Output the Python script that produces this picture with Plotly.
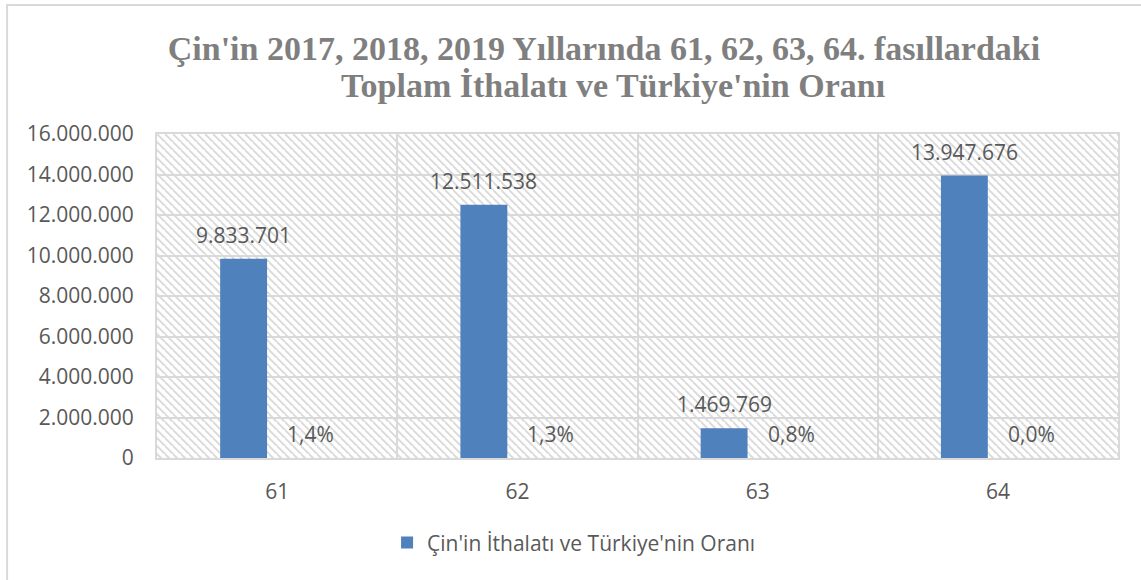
import base64
import plotly.graph_objects as go

# ---- data ----
categories = ["61", "62", "63", "64"]
imports = [9833701, 12511538, 1469769, 13947676]
turkey_share = [0.014, 0.013, 0.008, 0.000]
series_name = "Çin'in İthalatı ve Türkiye'nin Oranı"
y_ticks = [0, 2000000, 4000000, 6000000, 8000000, 10000000, 12000000, 14000000, 16000000]
title_lines = ["Çin'in 2017, 2018, 2019 Yıllarında 61, 62, 63, 64. fasıllardaki",
               "Toplam İthalatı ve Türkiye'nin Oranı"]

BLUE = "#4F81BD"
GRID = "#d9d9d9"
TEXT = "#595959"
FONT = "Open Sans"
FS = 21

W, H = 1141, 580
ML, MR, MT, MB = 157, 23, 134, 122
PW, PH = W - ML - MR, H - MT - MB


def fmt_int(v):
    return f"{v:,}".replace(",", ".")


def fmt_pct(p):
    return f"{p * 100:.1f}%".replace(".", ",")


# diagonal hatch for the plot-area background
svg = (f'<svg xmlns="http://www.w3.org/2000/svg" width="{PW}" height="{PH}">'
       '<defs><pattern id="h" width="8" height="8" patternUnits="userSpaceOnUse">'
       '<path d="M-2,-2 L10,10 M-6,2 L2,10 M6,-6 L14,2" stroke="#dcdcdc" stroke-width="2"/>'
       '</pattern></defs><rect width="100%" height="100%" fill="url(#h)"/></svg>')
hatch_src = "data:image/svg+xml;base64," + base64.b64encode(svg.encode()).decode()

fig = go.Figure()
fig.add_trace(go.Bar(
    x=categories, y=imports, name=series_name,
    marker=dict(color=BLUE, line_width=0)))
fig.add_trace(go.Bar(
    x=categories, y=turkey_share, name="Türkiye'nin Oranı",
    marker=dict(color="#C0504D", line_width=0), showlegend=False))

annotations = []
# category index positions (numeric-looking category names would be read as indices)
for i, v in enumerate(imports):
    annotations.append(dict(x=i, y=v, xref="x", yref="y", text=fmt_int(v),
                            showarrow=False, xshift=-33.5, yshift=24, yanchor="middle",
                            font=dict(family=FONT, size=FS, color=TEXT)))
for i, p in enumerate(turkey_share):
    annotations.append(dict(x=i, y=p, xref="x", yref="y", text=fmt_pct(p),
                            showarrow=False, xshift=33.5, yshift=24, yanchor="middle",
                            font=dict(family=FONT, size=FS, color=TEXT)))
# second title line
annotations.append(dict(x=(613 - ML) / PW, y=(H - MB - 85) / PH, xref="paper", yref="paper",
                        xanchor="center", yanchor="middle", showarrow=False,
                        text="<b>" + title_lines[1] + "</b>",
                        font=dict(family="Liberation Serif", size=34, color="#7f7f7f")))

fig.update_layout(
    width=W, height=H,
    margin=dict(l=ML, r=MR, t=MT, b=MB),
    paper_bgcolor="white", plot_bgcolor="rgba(0,0,0,0)",
    barmode="group", bargap=0.442, bargroupgap=0.30,
    title=dict(text="<b>" + title_lines[0] + "</b>",
               x=604 / W, xanchor="center", xref="container",
               y=1 - 48 / H, yanchor="middle", yref="container",
               font=dict(family="Liberation Serif", size=34, color="#7f7f7f")),
    xaxis=dict(type="category", range=[-0.5, 3.5],
               tickson="boundaries", showgrid=True, gridcolor=GRID, gridwidth=2,
               showline=True, mirror=True, linecolor=GRID, linewidth=2,
               ticks="", ticklabelstandoff=14,
               tickfont=dict(family=FONT, size=FS, color=TEXT)),
    yaxis=dict(range=[0, 16000000],
               tickvals=y_ticks, ticktext=[fmt_int(t) for t in y_ticks],
               showgrid=True, gridcolor=GRID, gridwidth=2, zeroline=False,
               showline=True, mirror=True, linecolor=GRID, linewidth=2,
               ticks="", ticklabelstandoff=17,
               tickfont=dict(family=FONT, size=FS, color=TEXT)),
    legend=dict(orientation="h", x=0.434, xanchor="center", y=-0.262, yanchor="middle",
                font=dict(family=FONT, size=FS, color=TEXT)),
    annotations=annotations,
    images=[dict(source=hatch_src, xref="paper", yref="paper", x=0, y=1,
                 sizex=1, sizey=1, xanchor="left", yanchor="top",
                 sizing="stretch", layer="below")],
    shapes=[dict(type="rect", xref="paper", yref="paper",
                 x0=-0.156, x1=1.2, y0=-0.6, y1=1.398,
                 line=dict(color=GRID, width=2), fillcolor="rgba(0,0,0,0)")],
)

fig.write_html("out.html")
